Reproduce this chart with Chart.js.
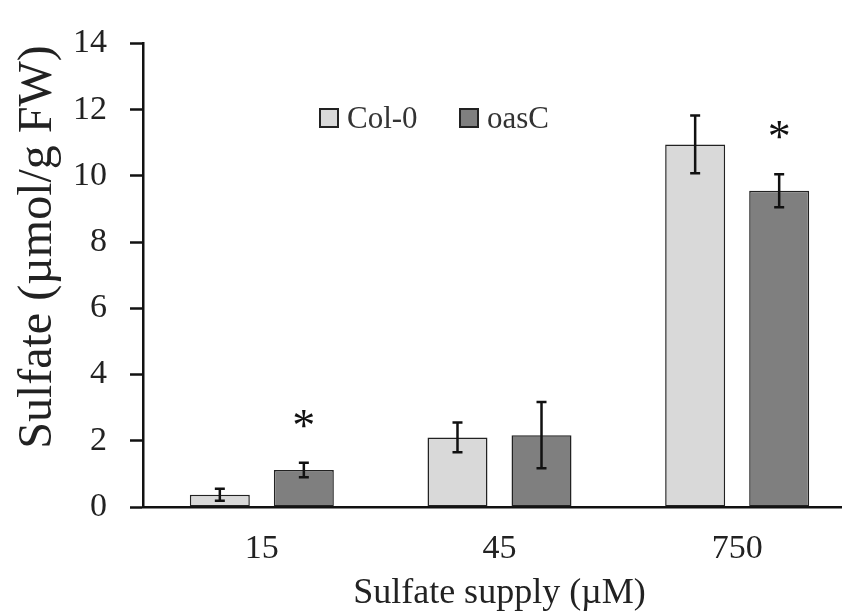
<!DOCTYPE html>
<html>
<head>
<meta charset="utf-8">
<script src="https://cdn.jsdelivr.net/npm/chart.js@4"></script>
<style>
  html, body { margin: 0; padding: 0; background: #fff; overflow: hidden; }
  #wrap { width: 856px; height: 616px; }
</style>
</head>
<body>
<div id="wrap"><canvas id="chart" width="856" height="616"></canvas></div>
<script>
// Sulfate supply levels (µM)
const categories = ['15', '45', '750'];

// Sulfate content (µmol/g FW), means and error bars
const col0Values = [0.37, 2.1, 10.95];
const col0Errors = [0.18, 0.45, 0.87];
const oasCValues = [1.12, 2.17, 9.55];
const oasCErrors = [0.22, 1.0, 0.5];

// significance marks above oasC bars
const oasCStars = ['*', '', '*'];

// y axis ticks
const yTicks = [0, 2, 4, 6, 8, 10, 12, 14];

const yTitle = 'Sulfate (µmol/g FW)';
const serif = "'Liberation Serif', 'Times New Roman', serif";

// Error bars + asterisks drawn from the bar elements and the y scale
const errorBarPlugin = {
    id: 'errorBars',
    afterDatasetsDraw(chart) {
        const ctx = chart.ctx;
        const y = chart.scales.y;
        chart.data.datasets.forEach((ds, di) => {
            const meta = chart.getDatasetMeta(di);
            meta.data.forEach((bar, i) => {
                const v = ds.data[i];
                const e = ds.errors[i];
                const top = y.getPixelForValue(v + e);
                const bot = y.getPixelForValue(v - e);
                ctx.save();
                ctx.strokeStyle = '#111';
                ctx.lineWidth = 2.5;
                ctx.beginPath();
                ctx.moveTo(bar.x, top);
                ctx.lineTo(bar.x, bot);
                ctx.moveTo(bar.x - 5, top);
                ctx.lineTo(bar.x + 5, top);
                ctx.moveTo(bar.x - 5, bot);
                ctx.lineTo(bar.x + 5, bot);
                ctx.stroke();
                if (ds.stars && ds.stars[i]) {
                    ctx.fillStyle = '#111';
                    ctx.font = '46px ' + serif;
                    ctx.textAlign = 'center';
                    ctx.textBaseline = 'alphabetic';
                    ctx.fillText(ds.stars[i], bar.x, top - 22);
                }
                ctx.restore();
            });
        });
    }
};

// Legend inside the plot near the top, plus the rotated y title
const legendPlugin = {
    id: 'innerLegend',
    afterDraw(chart) {
        const ctx = chart.ctx;
        const items = [
            { x: 320, ds: chart.data.datasets[0] },
            { x: 460, ds: chart.data.datasets[1] }
        ];
        ctx.save();
        items.forEach(it => {
            ctx.fillStyle = it.ds.backgroundColor;
            ctx.fillRect(it.x, 109, 18, 18);
            ctx.strokeStyle = '#222';
            ctx.lineWidth = 2;
            ctx.strokeRect(it.x, 109, 18, 18);
            ctx.fillStyle = '#333';
            ctx.font = '31px ' + serif;
            ctx.textAlign = 'left';
            ctx.textBaseline = 'alphabetic';
            ctx.fillText(it.ds.label, it.x + 27, 128);
        });

        // y axis title, sitting a bit above the plot's middle as in the figure
        ctx.translate(51, 247);
        ctx.rotate(-Math.PI / 2);
        ctx.fillStyle = '#222';
        ctx.font = '48px ' + serif;
        ctx.textAlign = 'center';
        ctx.textBaseline = 'alphabetic';
        ctx.fillText(yTitle, 0, 0);
        ctx.restore();
    }
};

new Chart(document.getElementById('chart').getContext('2d'), {
    type: 'bar',
    data: {
        labels: categories,
        datasets: [
            {
                label: 'Col-0',
                data: col0Values,
                errors: col0Errors,
                backgroundColor: '#d9d9d9',
                borderColor: '#222',
                borderWidth: 1.5,
                borderSkipped: false,
                categoryPercentage: 0.707,
                barPercentage: 0.714
            },
            {
                label: 'oasC',
                data: oasCValues,
                errors: oasCErrors,
                stars: oasCStars,
                backgroundColor: '#7f7f7f',
                borderColor: '#222',
                borderWidth: 1.5,
                borderSkipped: false,
                categoryPercentage: 0.707,
                barPercentage: 0.714
            }
        ]
    },
    options: {
        responsive: false,
        animation: false,
        layout: { padding: { top: 32, left: 0, right: 0, bottom: 0 } },
        plugins: {
            legend: { display: false },
            tooltip: { enabled: false }
        },
        scales: {
            x: {
                z: 1,
                grid: { display: false, drawTicks: false },
                border: { display: true, color: '#111', width: 2.5 },
                ticks: {
                    color: '#222',
                    padding: 22,
                    font: { family: serif, size: 34 }
                },
                title: {
                    display: true,
                    text: 'Sulfate supply (µM)',
                    color: '#222',
                    padding: { top: 0, bottom: 1 },
                    font: { family: serif, size: 36 }
                },
                afterFit(scale) { scale.height = 109; }
            },
            y: {
                z: 1,
                min: 0,
                max: 14,
                afterBuildTicks(scale) {
                    scale.ticks = yTicks.map(v => ({ value: v }));
                },
                grid: {
                    drawOnChartArea: false,
                    drawTicks: true,
                    tickLength: 13,
                    tickColor: '#111',
                    tickWidth: 2.5
                },
                border: { display: true, color: '#111', width: 2.5 },
                ticks: {
                    color: '#222',
                    padding: 23,
                    font: { family: serif, size: 34 }
                },
                title: { display: false },
                afterFit(scale) { scale.width = 143; }
            }
        }
    },
    plugins: [errorBarPlugin, legendPlugin]
});
</script>
</body>
</html>
